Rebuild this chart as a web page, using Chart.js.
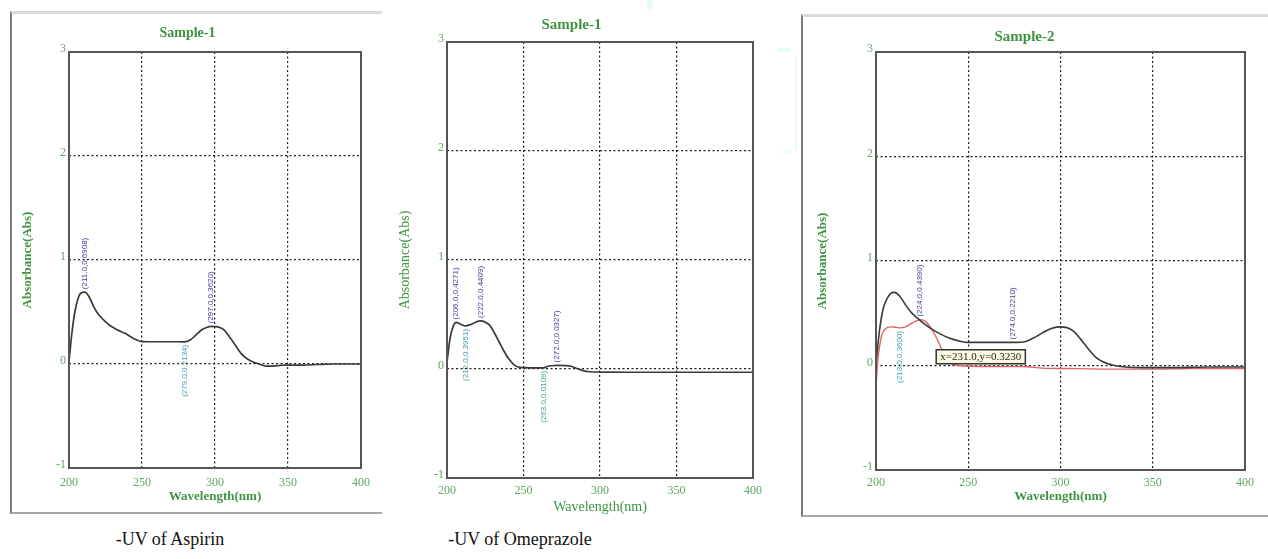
<!DOCTYPE html>
<html>
<head>
<meta charset="utf-8">
<script src="https://cdn.jsdelivr.net/npm/chart.js@4.4.1/dist/chart.umd.min.js"></script>
<style>
  body { margin: 0; background: #fff; width: 1268px; height: 559px; position: relative; overflow: hidden; font-family: 'Liberation Serif', serif; }
  canvas { position: absolute; }
  .frame { position: absolute; box-sizing: border-box; border-left: 2px solid #7a7a7a; border-bottom: 2px solid #a6a6a6; border-top: 3px solid #d9d9d9; }
  .caption { position: absolute; top: 529px; width: 240px; text-align: center; font-size: 18px; color: #111; }
  .haze { position: absolute; background: #e9fafa; }
</style>
</head>
<body>
<div class="frame" style="left:10px;top:11px;width:372px;height:503px;"></div>
<div class="frame" style="left:801px;top:14px;width:470px;height:503px;"></div>
<div class="haze" style="left:647px;top:0;width:6px;height:11px;"></div>
<div class="haze" style="left:777px;top:48px;width:14px;height:4px;"></div>
<div class="haze" style="left:783px;top:150px;width:8px;height:4px;"></div>
<div class="haze" style="left:795px;top:55px;width:2px;height:95px;"></div>

<canvas id="aspirin"></canvas>
<canvas id="omeprazole"></canvas>
<canvas id="sample2"></canvas>

<div class="caption" style="left:50px;">-UV of Aspirin</div>
<div class="caption" style="left:400px;">-UV of Omeprazole</div>

<script>
// Aspirin scan (Sample-1)
const aspirinWl  = [200, 202, 204, 206, 208, 211, 214, 217, 220, 224, 228, 233, 239, 245, 250, 255, 260, 270, 279, 283, 287, 291, 295, 297, 300, 303, 306, 310, 314, 318, 322, 326, 330, 335, 340, 345, 350, 360, 370, 380, 390, 400];
const aspirinAbs = [0.02, 0.30, 0.50, 0.62, 0.68, 0.6908, 0.64, 0.55, 0.48, 0.42, 0.37, 0.33, 0.29, 0.24, 0.215, 0.214, 0.214, 0.214, 0.2134, 0.23, 0.28, 0.33, 0.355, 0.3620, 0.360, 0.352, 0.33, 0.26, 0.18, 0.10, 0.05, 0.02, 0.0, -0.02, -0.02, -0.012, -0.01, -0.01, -0.005, 0.0, 0.0, 0.0];
const aspirinMaxima = [211, 297];
const aspirinMinima = [279];

// Omeprazole scan (Sample-1)
const omeWl  = [200, 202, 204, 206, 209, 212, 215, 218, 222, 225, 228, 231, 234, 237, 240, 243, 246, 250, 255, 260, 263, 266, 268, 272, 278, 281, 285, 289, 293, 300, 320, 350, 400];
const omeAbs = [0.06, 0.28, 0.39, 0.4271, 0.41, 0.3951, 0.405, 0.425, 0.4409, 0.43, 0.40, 0.33, 0.25, 0.17, 0.10, 0.05, 0.02, 0.012, 0.011, 0.011, 0.0109, 0.025, 0.03, 0.0327, 0.031, 0.025, 0.005, -0.015, -0.025, -0.028, -0.03, -0.03, -0.03];
const omeMaxima = [206, 222, 272];
const omeMinima = [212, 263];

// Sample-2: reference trace (black) and overlay trace (red)
const s2BlackWl  = [200, 202, 204, 206, 208, 210, 213, 216, 219, 222, 226, 230, 235, 240, 245, 250, 260, 274, 280, 285, 290, 295, 299, 303, 307, 311, 315, 319, 323, 328, 335, 345, 360, 380, 400];
const s2BlackAbs = [0.02, 0.35, 0.55, 0.64, 0.69, 0.70, 0.66, 0.58, 0.51, 0.46, 0.40, 0.35, 0.30, 0.26, 0.235, 0.221, 0.221, 0.2210, 0.225, 0.26, 0.31, 0.355, 0.37, 0.365, 0.33, 0.25, 0.16, 0.08, 0.035, 0.005, -0.015, -0.02, -0.02, -0.015, -0.015];
const s2RedWl  = [200, 201, 203, 205, 208, 211, 213, 216, 219, 224, 227, 231, 234, 237, 240, 245, 260, 280, 290, 310, 330, 350, 370, 400];
const s2RedAbs = [-0.20, 0.05, 0.28, 0.35, 0.37, 0.365, 0.3600, 0.37, 0.40, 0.4390, 0.42, 0.3230, 0.22, 0.10, 0.03, 0.0, -0.01, -0.01, -0.025, -0.03, -0.035, -0.035, -0.03, -0.03];
const s2BlackMaxima = [274];
const s2RedMaxima = [224];
const s2RedMinima = [213];
const s2Cursor = 231;

const xTicks = [200, 250, 300, 350, 400];
const yTicks = [-1, 0, 1, 2, 3];

const GREEN = '#3f9342';
const TICK_GREEN = '#5fa85f';

function pairs(xs, ys) {
  return xs.map((x, i) => ({ x: x, y: ys[i] }));
}

function fmt(x, y) {
  return '(' + x.toFixed(1) + ',' + y.toFixed(4) + ')';
}

// solid box around the plotting area
const plotFrame = {
  id: 'plotFrame',
  afterDatasetsDraw(chart) {
    const { ctx, chartArea: a } = chart;
    ctx.save();
    ctx.strokeStyle = '#555';
    ctx.lineWidth = 2;
    ctx.strokeRect(a.left, a.top, a.width, a.height);
    ctx.restore();
  }
};

// vertical peak / valley readouts next to the curve
const peakLabels = {
  id: 'peakLabels',
  afterDatasetsDraw(chart, args, opts) {
    const items = opts.items || [];
    const { ctx } = chart;
    const xs = chart.scales.x, ys = chart.scales.y;
    ctx.save();
    ctx.font = '8px "Liberation Sans", Arial, sans-serif';
    ctx.textBaseline = 'middle';
    items.forEach(item => {
      const pt = chart.data.datasets[item.dataset].data.find(p => p.x === item.x);
      const px = xs.getPixelForValue(pt.x);
      const py = ys.getPixelForValue(pt.y);
      ctx.save();
      ctx.translate(px, py);
      ctx.rotate(-Math.PI / 2);
      if (item.kind === 'max') {
        ctx.fillStyle = '#3d3f9c';
        ctx.textAlign = 'left';
        ctx.fillText(fmt(pt.x, pt.y), 3, 0);
      } else {
        ctx.fillStyle = '#3f9ea3';
        ctx.textAlign = 'right';
        ctx.fillText(fmt(pt.x, pt.y), -3, 0);
      }
      ctx.restore();
    });
    ctx.restore();
  }
};

// cursor readout box
const cursorBox = {
  id: 'cursorBox',
  afterDatasetsDraw(chart, args, opts) {
    if (opts.x == null) return;
    const { ctx } = chart;
    const pt = chart.data.datasets[opts.dataset].data.find(p => p.x === opts.x);
    const px = chart.scales.x.getPixelForValue(pt.x);
    const py = chart.scales.y.getPixelForValue(pt.y);
    const text = 'x=' + pt.x.toFixed(1) + ',y=' + pt.y.toFixed(4);
    ctx.save();
    ctx.font = '11px "Liberation Serif", serif';
    const w = ctx.measureText(text).width + 8;
    const bx = px + 3, by = py + 18;
    ctx.fillStyle = '#fbfbe4';
    ctx.fillRect(bx, by, w, 14);
    ctx.strokeStyle = '#333';
    ctx.lineWidth = 1.5;
    ctx.strokeRect(bx, by, w, 14);
    ctx.fillStyle = '#222';
    ctx.textBaseline = 'middle';
    ctx.fillText(text, bx + 4, by + 7.5);
    ctx.restore();
  }
};

function spectrum(id, box, plot, look, datasets, extra) {
  const canvas = document.getElementById(id);
  canvas.width = box.w;
  canvas.height = box.h;
  canvas.style.left = box.x + 'px';
  canvas.style.top = box.y + 'px';

  const yWidth = plot.left - box.x;
  const xHeight = box.y + box.h - plot.bottom;
  const rightPad = box.x + box.w - plot.right;
  const topGap = plot.top - box.y;
  const titleLine = look.titleSize * 1.2;
  const titleTop = look.titleY - box.y - titleLine / 2;
  const axisLine = look.axisSize * 1.2;

  const weight = look.bold ? 'bold' : 'normal';

  return new Chart(canvas, {
    type: 'line',
    data: { datasets: datasets },
    options: {
      responsive: false,
      animation: false,
      events: [],
      layout: { padding: { left: 0, right: rightPad, top: 0, bottom: 0 } },
      elements: { point: { radius: 0 } },
      plugins: {
        legend: { display: false },
        tooltip: { enabled: false },
        title: {
          display: true,
          text: look.title,
          color: GREEN,
          font: { family: 'Liberation Serif', size: look.titleSize, weight: 'bold', lineHeight: 1.2 },
          padding: { top: titleTop, bottom: topGap - titleTop - titleLine }
        },
        peakLabels: { items: extra.labels },
        cursorBox: extra.cursor || {}
      },
      scales: {
        x: {
          type: 'linear',
          min: 200,
          max: 400,
          afterBuildTicks: s => { s.ticks = xTicks.map(v => ({ value: v })); },
          afterFit: s => { s.height = xHeight; },
          grid: { color: '#1e1e1e', lineWidth: 1.2, drawTicks: false },
          border: { display: false, dash: [2, 2.5] },
          ticks: { color: TICK_GREEN, padding: look.tickPad, maxRotation: 0, font: { family: 'Liberation Serif', size: 12 } },
          title: {
            display: true,
            text: 'Wavelength(nm)',
            color: GREEN,
            font: { family: 'Liberation Serif', size: look.axisSize, weight: weight, lineHeight: 1.2 },
            padding: { top: 0, bottom: look.xTitleBottom - axisLine / 2 }
          }
        },
        y: {
          min: -1,
          max: 3,
          afterBuildTicks: s => { s.ticks = yTicks.map(v => ({ value: v })); },
          afterFit: s => { s.width = yWidth; },
          grid: { color: '#1e1e1e', lineWidth: 1.2, drawTicks: false },
          border: { display: false, dash: [2, 2.5] },
          ticks: { color: TICK_GREEN, padding: 3, labelOffset: -3, font: { family: 'Liberation Serif', size: 12 } },
          title: {
            display: true,
            text: 'Absorbance(Abs)',
            color: GREEN,
            font: { family: 'Liberation Serif', size: look.axisSize, weight: weight, lineHeight: 1.2 },
            padding: { top: look.yTitleX - box.x - axisLine / 2, bottom: 0 }
          }
        }
      }
    },
    plugins: [plotFrame, peakLabels, cursorBox]
  });
}

function trace(xs, ys, color, width) {
  return {
    data: pairs(xs, ys),
    borderColor: color,
    borderWidth: width,
    cubicInterpolationMode: 'monotone',
    fill: false
  };
}

function marks(dataset, maxima, minima) {
  return maxima.map(x => ({ dataset: dataset, x: x, kind: 'max' }))
    .concat(minima.map(x => ({ dataset: dataset, x: x, kind: 'min' })));
}

spectrum('aspirin',
  { x: 12, y: 15, w: 366, h: 495 },
  { left: 69, top: 52, right: 363, bottom: 468 },
  { title: 'Sample-1', titleSize: 14, titleY: 33, axisSize: 13, bold: true, yTitleX: 28, xTitleBottom: 13, tickPad: 8 },
  [trace(aspirinWl, aspirinAbs, '#3a3a3a', 1.7)],
  { labels: marks(0, aspirinMaxima, aspirinMinima) }
);

spectrum('omeprazole',
  { x: 390, y: 0, w: 385, h: 520 },
  { left: 447, top: 42, right: 753, bottom: 478 },
  { title: 'Sample-1', titleSize: 15, titleY: 25, axisSize: 14, bold: false, yTitleX: 405, xTitleBottom: 13, tickPad: 6 },
  [trace(omeWl, omeAbs, '#3a3a3a', 1.7)],
  { labels: marks(0, omeMaxima, omeMinima) }
);

spectrum('sample2',
  { x: 804, y: 19, w: 462, h: 494 },
  { left: 876, top: 52, right: 1245, bottom: 470 },
  { title: 'Sample-2', titleSize: 15, titleY: 37, axisSize: 13, bold: true, yTitleX: 823, xTitleBottom: 16, tickPad: 6 },
  [trace(s2BlackWl, s2BlackAbs, '#3a3a3a', 1.6), trace(s2RedWl, s2RedAbs, '#e06464', 1.4)],
  {
    labels: marks(0, s2BlackMaxima, []).concat(marks(1, s2RedMaxima, s2RedMinima)),
    cursor: { dataset: 1, x: s2Cursor }
  }
);
</script>
</body>
</html>
